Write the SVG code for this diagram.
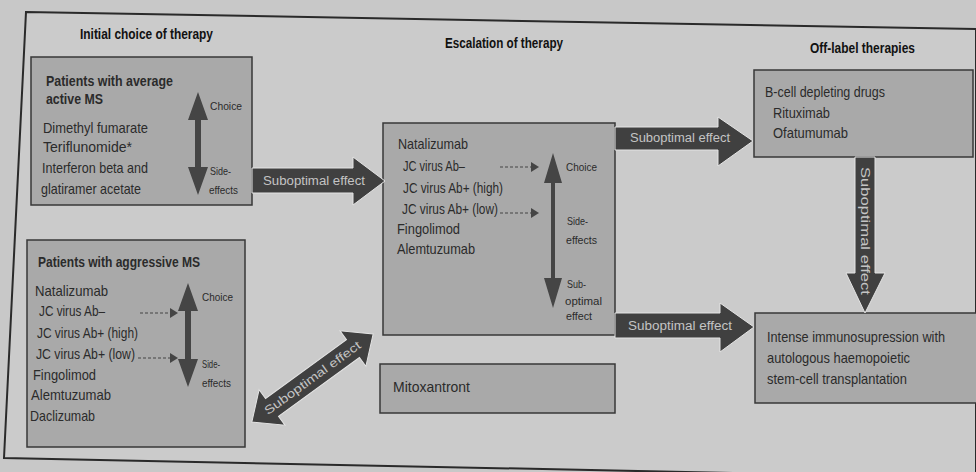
<svg xmlns="http://www.w3.org/2000/svg" width="976" height="472" viewBox="0 0 976 472">
<defs>
<style>
text{font-family:"Liberation Sans","Noto Sans",sans-serif;fill:#2b2b2b}
.box{fill:#a9a9a9;stroke:#383838;stroke-width:1.5}
.t{font-size:14.5px}
.h{font-size:15px;font-weight:bold;fill:#111}
.s{font-size:11.5px}
.big{fill:#404040;stroke:#e4e4e4;stroke-width:1}
.at{font-size:12px;fill:#c4c4c4}
.da{fill:#454545}
.dash{stroke:#454545;stroke-width:1.2;stroke-dasharray:3 2;fill:none}
</style>
</defs>
<rect x="0" y="0" width="976" height="472" fill="#c8c8c8"/>
<polygon points="26,12 976,29 976,478 4,458" fill="#cbcbcb" stroke="#2a2a2a" stroke-width="2"/>

<g id="headings">
<text class="h" x="80" y="39" textLength="133" lengthAdjust="spacingAndGlyphs">Initial choice of therapy</text>
<text class="h" x="445" y="48" textLength="118" lengthAdjust="spacingAndGlyphs">Escalation of therapy</text>
<text class="h" x="810" y="53" textLength="105" lengthAdjust="spacingAndGlyphs">Off-label therapies</text>
</g>

<g id="node-average">
<rect class="box" x="31" y="57" width="221" height="148"/>
<text class="t" x="46" y="86" font-weight="bold" textLength="127" lengthAdjust="spacingAndGlyphs">Patients with average</text>
<text class="t" x="46" y="104" font-weight="bold" textLength="57" lengthAdjust="spacingAndGlyphs">active MS</text>
<text class="t" x="43" y="133" textLength="105" lengthAdjust="spacingAndGlyphs">Dimethyl fumarate</text>
<text class="t" x="43" y="152" textLength="89" lengthAdjust="spacingAndGlyphs">Teriflunomide*</text>
<text class="t" x="42" y="173" textLength="106" lengthAdjust="spacingAndGlyphs">Interferon beta and</text>
<text class="t" x="41" y="194" textLength="100" lengthAdjust="spacingAndGlyphs">glatiramer acetate</text>
<polygon class="da" points="198,92 208,120 201,120 201,167 208,167 198,195 188,167 195,167 195,120 188,120"/>
<text class="s" x="210" y="110" textLength="32" lengthAdjust="spacingAndGlyphs">Choice</text>
<text class="s" x="210" y="175" textLength="21" lengthAdjust="spacingAndGlyphs">Side-</text>
<text class="s" x="209" y="194" textLength="29" lengthAdjust="spacingAndGlyphs">effects</text>
</g>

<g id="node-aggressive">
<rect class="box" x="27" y="240" width="218" height="207"/>
<text class="t" x="38" y="267" font-weight="bold" textLength="162" lengthAdjust="spacingAndGlyphs">Patients with aggressive MS</text>
<text class="t" x="35" y="296" textLength="73" lengthAdjust="spacingAndGlyphs">Natalizumab</text>
<text class="t" x="39" y="316" textLength="66" lengthAdjust="spacingAndGlyphs">JC virus Ab–</text>
<text class="t" x="37" y="338" textLength="101" lengthAdjust="spacingAndGlyphs">JC virus Ab+ (high)</text>
<text class="t" x="36" y="359" textLength="99" lengthAdjust="spacingAndGlyphs">JC virus Ab+ (low)</text>
<text class="t" x="33" y="380" textLength="63" lengthAdjust="spacingAndGlyphs">Fingolimod</text>
<text class="t" x="31" y="400" textLength="80" lengthAdjust="spacingAndGlyphs">Alemtuzumab</text>
<text class="t" x="30" y="421" textLength="65" lengthAdjust="spacingAndGlyphs">Daclizumab</text>
<line class="dash" x1="140" y1="313" x2="170" y2="313"/>
<polygon class="da" points="170,308 178,313 170,318"/>
<line class="dash" x1="138" y1="358" x2="170" y2="358"/>
<polygon class="da" points="170,353 178,358 170,363"/>
<polygon class="da" points="188,283 198,311 191,311 191,359 198,359 188,387 178,359 185,359 185,311 178,311"/>
<text class="s" x="202" y="301" textLength="31" lengthAdjust="spacingAndGlyphs">Choice</text>
<text class="s" x="202" y="368" textLength="18" lengthAdjust="spacingAndGlyphs">Side-</text>
<text class="s" x="202" y="387" textLength="29" lengthAdjust="spacingAndGlyphs">effects</text>
</g>

<g id="node-escalation">
<rect class="box" x="383" y="123" width="232" height="212"/>
<text class="t" x="398" y="149" textLength="70" lengthAdjust="spacingAndGlyphs">Natalizumab</text>
<text class="t" x="403" y="171" textLength="62" lengthAdjust="spacingAndGlyphs">JC virus Ab–</text>
<text class="t" x="403" y="193" textLength="100" lengthAdjust="spacingAndGlyphs">JC virus Ab+ (high)</text>
<text class="t" x="402" y="214" textLength="96" lengthAdjust="spacingAndGlyphs">JC virus Ab+ (low)</text>
<text class="t" x="397" y="234" textLength="63" lengthAdjust="spacingAndGlyphs">Fingolimod</text>
<text class="t" x="397" y="254" textLength="78" lengthAdjust="spacingAndGlyphs">Alemtuzumab</text>
<line class="dash" x1="500" y1="167" x2="531" y2="167"/>
<polygon class="da" points="531,162 539,167 531,172"/>
<line class="dash" x1="500" y1="213" x2="531" y2="213"/>
<polygon class="da" points="531,208 539,213 531,218"/>
<polygon class="da" points="553,153 562,183 555,183 555,278 562,278 553,308 544,278 551,278 551,183 544,183"/>
<text class="s" x="566" y="171" textLength="31" lengthAdjust="spacingAndGlyphs">Choice</text>
<text class="s" x="567" y="225" textLength="21" lengthAdjust="spacingAndGlyphs">Side-</text>
<text class="s" x="566" y="244" textLength="31" lengthAdjust="spacingAndGlyphs">effects</text>
<text class="s" x="567" y="288" textLength="19" lengthAdjust="spacingAndGlyphs">Sub-</text>
<text class="s" x="565" y="305" textLength="37" lengthAdjust="spacingAndGlyphs">optimal</text>
<text class="s" x="566" y="320" textLength="26" lengthAdjust="spacingAndGlyphs">effect</text>
</g>

<g id="node-mitoxantrone">
<rect class="box" x="380" y="364" width="235" height="49"/>
<text class="t" x="393" y="392" textLength="77" lengthAdjust="spacingAndGlyphs">Mitoxantront</text>
</g>

<g id="node-bcell">
<rect class="box" x="754" y="70" width="219" height="87"/>
<text class="t" x="765" y="97" textLength="120" lengthAdjust="spacingAndGlyphs">B-cell depleting drugs</text>
<text class="t" x="773" y="118" textLength="57" lengthAdjust="spacingAndGlyphs">Rituximab</text>
<text class="t" x="773" y="138" textLength="75" lengthAdjust="spacingAndGlyphs">Ofatumumab</text>
</g>

<g id="node-intense">
<rect class="box" x="755" y="313" width="225" height="90"/>
<text class="t" x="767" y="342" textLength="178" lengthAdjust="spacingAndGlyphs">Intense immunosupression with</text>
<text class="t" x="767" y="363" textLength="143" lengthAdjust="spacingAndGlyphs">autologous haemopoietic</text>
<text class="t" x="767" y="384" textLength="140" lengthAdjust="spacingAndGlyphs">stem-cell transplantation</text>
</g>

<g id="connectors">
<polygon class="big" points="252,168 353,168 353,157 385,181 353,205 353,193 252,193"/>
<text class="at" x="263" y="185" textLength="102" lengthAdjust="spacingAndGlyphs">Suboptimal effect</text>

<polygon class="big" points="615,127 718,127 718,117 753,141 718,166 718,150 615,150"/>
<text class="at" x="630" y="142" textLength="100" lengthAdjust="spacingAndGlyphs">Suboptimal effect</text>

<polygon class="big" points="615,313 720,313 720,303 754,327 720,352 720,338 615,338"/>
<text class="at" x="628" y="330" textLength="104" lengthAdjust="spacingAndGlyphs">Suboptimal effect</text>

<polygon class="big" points="855,157 875,157 875,273 885,273 865,313 846,273 855,273"/>
<text class="at" transform="translate(865,231) rotate(90)" x="-64" y="4" textLength="128" lengthAdjust="spacingAndGlyphs">Suboptimal effect</text>

<g transform="translate(312.5,378) rotate(-36)">
<polygon class="big" points="-75,0 -50,-22 -50,-11 50,-11 50,-22 75,0 50,22 50,11 -50,11 -50,22"/>
<text class="at" x="-58" y="4" textLength="116" lengthAdjust="spacingAndGlyphs">Suboptimal effect</text>
</g>
</g>
</svg>
